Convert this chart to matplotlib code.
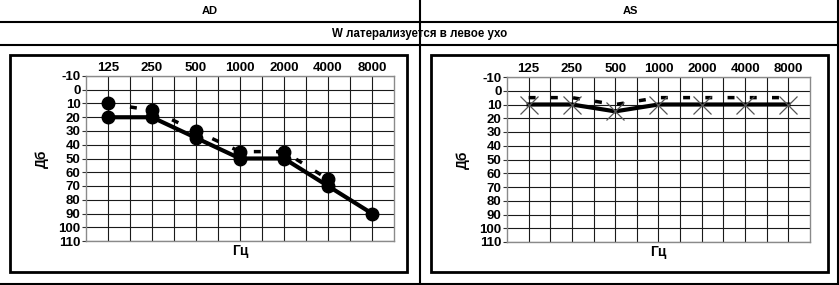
"""Audiogram pair (AD / AS) with a table-like frame, as in the reference."""

import matplotlib
matplotlib.use("Agg")
import matplotlib.pyplot as plt
from matplotlib.lines import Line2D
from matplotlib.patches import Rectangle

# ---------------------------------------------------------------------------
# Data
# ---------------------------------------------------------------------------
FREQS = ["125", "250", "500", "1000", "2000", "4000", "8000"]
DB_TICKS = [-10, 0, 10, 20, 30, 40, 50, 60, 70, 80, 90, 100, 110]

AD_SOLID = [20, 20, 35, 50, 50, 70, 90]
AD_DASHED = [10, 15, 30, 45, 45, 65]

AS_SOLID = [10, 10, 15, 10, 10, 10, 10]
AS_DASHED = [5, 5, 10, 5, 5, 5, 5]

HEADER_LEFT = "AD"
HEADER_RIGHT = "AS"
SUBHEADER = "W латерализуется в левое ухо"
XLABEL = "Гц"
YLABEL = "Дб"

# ---------------------------------------------------------------------------
# Layout (pixel based, figure is 839 x 285)
# ---------------------------------------------------------------------------
W, H = 839, 285
plt.rcParams["font.family"] = ["Liberation Sans", "DejaVu Sans"]
plt.rcParams["lines.scale_dashes"] = False
HEAD_FONT = ["Liberation Sans Narrow", "Liberation Sans", "DejaVu Sans"]
TICK_SIZE = 9.5


def fx(px):
    return px / W


def fy(py):
    return 1 - py / H


def hline(fig, y, x0, x1, lw=1.5):
    fig.add_artist(Line2D([fx(x0), fx(x1)], [fy(y), fy(y)], color="black",
                          linewidth=lw, transform=fig.transFigure))


def vline(fig, x, y0, y1, lw=1.5):
    fig.add_artist(Line2D([fx(x), fx(x)], [fy(y0), fy(y1)], color="black",
                          linewidth=lw, transform=fig.transFigure))


def audiogram(fig, left, right, top, bottom):
    ax = fig.add_axes([fx(left), fy(bottom), fx(right - left), (bottom - top) / H])
    xs = list(range(len(FREQS)))
    ax.set_xlim(-0.5, len(FREQS) - 0.5)
    ax.set_ylim(110, -10)
    ax.set_xticks(xs)
    ax.set_xticklabels(FREQS, fontsize=TICK_SIZE, fontweight="bold")
    ax.set_xticks([x + 0.5 for x in xs[:-1]], minor=True)
    ax.set_yticks(DB_TICKS)
    ax.set_yticklabels([str(v) for v in DB_TICKS], fontsize=TICK_SIZE,
                       fontweight="bold")
    ax.xaxis.tick_top()
    ax.tick_params(axis="x", which="both", length=0, pad=1.5)
    ax.tick_params(axis="y", length=3, width=0.8, pad=1, color="#333333")
    ax.grid(True, which="both", axis="x", color="#1a1a1a", linewidth=0.8)
    ax.grid(True, which="major", axis="y", color="#1a1a1a", linewidth=0.8)
    ax.set_axisbelow(True)
    for sp in ax.spines.values():
        sp.set_color("#8a8a8a")
        sp.set_linewidth(1.0)
    ax.set_xlabel(XLABEL, fontsize=10, fontweight="bold", labelpad=2)
    ax.xaxis.set_label_position("bottom")
    ax.set_ylabel(YLABEL, fontsize=10, fontweight="bold", labelpad=7)
    return ax, xs


fig = plt.figure(figsize=(W / 100, H / 100), dpi=100)

# table frame
hline(fig, 22, 0, 838)
hline(fig, 45, 0, 838)
hline(fig, 284, 0, 838)
vline(fig, 420, 0, 285)
vline(fig, 837.5, 0, 285)

fig.text(fx(210), fy(11), HEADER_LEFT, ha="center", va="center",
         fontsize=8, fontweight="bold", family=HEAD_FONT)
fig.text(fx(630), fy(11), HEADER_RIGHT, ha="center", va="center",
         fontsize=8, fontweight="bold", family=HEAD_FONT)
fig.text(fx(420), fy(33.5), SUBHEADER, ha="center", va="center",
         fontsize=8.3, fontweight="bold", family=HEAD_FONT)

# chart boxes
for x0, x1 in [(9.5, 407), (430.5, 828)]:
    fig.add_artist(Rectangle((fx(x0), fy(272)), fx(x1 - x0), (272 - 54.5) / H,
                             fill=False, edgecolor="black", linewidth=2.0,
                             transform=fig.transFigure))

DASH = (0, (5.0, 11.0))

# AD
ax1, xs = audiogram(fig, 86, 394, 76, 241)
ax1.plot(xs, AD_SOLID, color="black", linewidth=3.0, marker="o",
         markersize=9, zorder=3)
ax1.plot(xs[:len(AD_DASHED)], AD_DASHED, color="black", linewidth=2.5,
         linestyle=DASH, marker="o", markersize=9, zorder=3,
         dash_capstyle="butt")

# AS
ax2, xs = audiogram(fig, 507, 810, 77, 242)
ax2.plot(xs, AS_SOLID, color="black", linewidth=3.0, zorder=3)
ax2.plot(xs, AS_SOLID, linestyle="none", marker="x", markersize=13,
         markeredgewidth=0.9, color="#555555", zorder=4)
ax2.plot(xs, AS_DASHED, color="black", linewidth=2.5, linestyle=DASH,
         zorder=3, dash_capstyle="butt")

fig.savefig("out.png", dpi=100)
